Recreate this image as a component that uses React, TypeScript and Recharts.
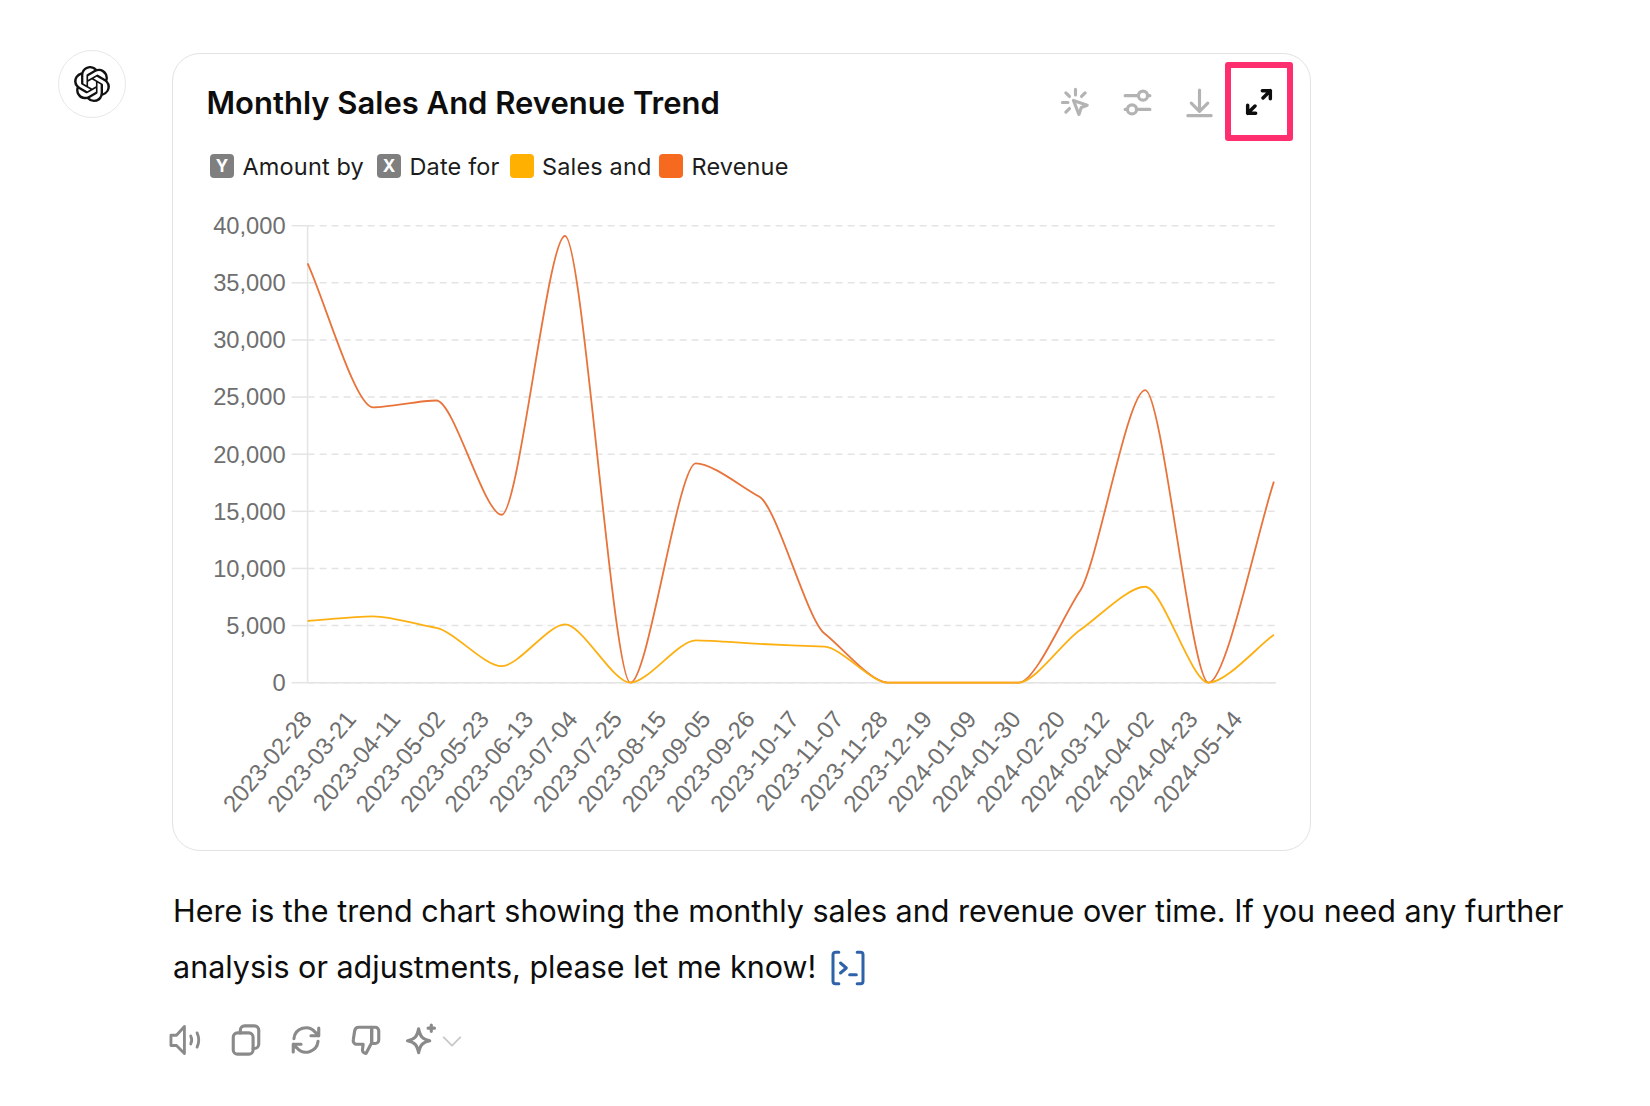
import React from "react";
import { LineChart, Line, XAxis, YAxis, CartesianGrid } from "recharts";

const dates = [
  "2023-02-28", "2023-03-31", "2023-04-30", "2023-05-31", "2023-06-30", "2023-07-31", "2023-08-31", "2023-09-30",
  "2023-10-31", "2023-11-30", "2023-12-31", "2024-01-31", "2024-02-29", "2024-03-31", "2024-04-30", "2024-05-31",
];
const sales = [5400, 5800, 4800, 1450, 5100, 0, 3700, 3400, 3150, 0, 0, 0, 4600, 8400, 0, 4200];
const revenue = [36700, 24100, 24700, 14700, 39100, 0, 19200, 16300, 4300, 0, 0, 0, 8000, 25600, 0, 17600];
const xTickLabels = [
  "2023-02-28", "2023-03-21", "2023-04-11", "2023-05-02", "2023-05-23", "2023-06-13", "2023-07-04", "2023-07-25",
  "2023-08-15", "2023-09-05", "2023-09-26", "2023-10-17", "2023-11-07", "2023-11-28", "2023-12-19", "2024-01-09",
  "2024-01-30", "2024-02-20", "2024-03-12", "2024-04-02", "2024-04-23", "2024-05-14",
];
const xAxisEnd = "2024-06-01";
const yTicks = [0, 5000, 10000, 15000, 20000, 25000, 30000, 35000, 40000];

const data = dates.map((d, i) => ({ t: Date.parse(d), sales: sales[i], revenue: revenue[i] }));
const font = "Inter, sans-serif";
const axisFont = "'Liberation Sans', Arial, sans-serif";
const axisColor = "#e4e4e4";
const tickColor = "#6f6f6f";

const place = (left: number, top: number, extra: any = {}): any => ({ position: "absolute", left, top, ...extra });

// monotone curve with shorter handles, the original's bends are tighter than d3's monotoneX
const softCurve = (context: any) => {
  let pts: number[][] = [];
  const k = 0.27;
  return {
    areaStart() {},
    areaEnd() {},
    lineStart() {
      pts = [];
    },
    point(x: number, y: number) {
      pts.push([+x, +y]);
    },
    lineEnd() {
      const n = pts.length;
      if (!n) return;
      const slopes = pts.slice(1).map((p, i) => (p[1] - pts[i][1]) / (p[0] - pts[i][0]));
      const tangents = pts.map((_, i) => {
        if (i === 0) return slopes[0];
        if (i === n - 1) return slopes[n - 2];
        const a = slopes[i - 1];
        const b = slopes[i];
        if (a * b <= 0) return 0;
        return Math.sign(a) * Math.min(Math.abs(a), Math.abs(b), 0.5 * Math.abs(a + b));
      });
      context.moveTo(pts[0][0], pts[0][1]);
      for (let i = 1; i < n; i++) {
        const d = (pts[i][0] - pts[i - 1][0]) * k;
        context.bezierCurveTo(
          pts[i - 1][0] + d,
          pts[i - 1][1] + d * tangents[i - 1],
          pts[i][0] - d,
          pts[i][1] - d * tangents[i],
          pts[i][0],
          pts[i][1]
        );
      }
    },
  };
};

function DateTick({ x, y, payload }: any) {
  const ax = x + 5.5;
  const ay = y + 37;
  return (
    <text x={ax} y={ay} textAnchor="end" fill={tickColor} fontSize={24} fontFamily={axisFont} transform={`rotate(-50 ${ax} ${ay})`}>
      {new Date(payload.value).toISOString().slice(0, 10)}
    </text>
  );
}

function Label({ x, text }: { x: number; text: string }) {
  return <div style={place(x, 152, { font: `400 23.5px/30px ${font}`, letterSpacing: 0.15, color: "#1c1c1c", whiteSpace: "nowrap" })}>{text}</div>;
}

function Chip({ x, color, text }: { x: number; color: string; text?: string }) {
  return (
    <div style={place(x, 154, { width: 24, height: 24, borderRadius: 4, background: color, color: "#fff", font: `700 17px/24px ${font}`, textAlign: "center" })}>
      {text}
    </div>
  );
}

function Icon({ x, y, size, color, sw = 2, children }: any) {
  return (
    <svg style={place(x - size / 2, y - size / 2)} width={size} height={size} viewBox="0 0 24 24" fill="none" stroke={color} strokeWidth={sw} strokeLinecap="round" strokeLinejoin="round">
      {children}
    </svg>
  );
}

export default function App() {
  return (
    <div style={place(0, 0, { width: 1650, height: 1106, background: "#fff", overflow: "hidden", fontFamily: font })}>
      <div style={place(58, 50, { width: 68, height: 68, borderRadius: "50%", border: "1.5px solid #e8e8e8", boxSizing: "border-box" })} />
      <svg style={place(74, 66)} width={36} height={36} viewBox="0 0 24 24" fill="#111">
        <path d="M22.2819 9.8211a5.9847 5.9847 0 0 0-.5157-4.9108 6.0462 6.0462 0 0 0-6.5098-2.9A6.0651 6.0651 0 0 0 4.9807 4.1818a5.9847 5.9847 0 0 0-3.9977 2.9 6.0462 6.0462 0 0 0 .7427 7.0966 5.98 5.98 0 0 0 .511 4.9107 6.051 6.051 0 0 0 6.5146 2.9001A5.9847 5.9847 0 0 0 13.2599 24a6.0557 6.0557 0 0 0 5.7718-4.2058 5.9894 5.9894 0 0 0 3.9977-2.9001 6.0557 6.0557 0 0 0-.7475-7.0729zm-9.022 12.6081a4.4755 4.4755 0 0 1-2.8764-1.0408l.1419-.0804 4.7783-2.7582a.7948.7948 0 0 0 .3927-.6813v-6.7369l2.02 1.1686a.071.071 0 0 1 .038.052v5.5826a4.504 4.504 0 0 1-4.4945 4.4944zm-9.6607-4.1254a4.4708 4.4708 0 0 1-.5346-3.0137l.142.0852 4.783 2.7582a.7712.7712 0 0 0 .7806 0l5.8428-3.3685v2.3324a.0804.0804 0 0 1-.0332.0615L9.74 19.9502a4.4992 4.4992 0 0 1-6.1408-1.6464zM2.3408 7.8956a4.485 4.485 0 0 1 2.3655-1.9728V11.6a.7664.7664 0 0 0 .3879.6765l5.8144 3.3543-2.0201 1.1685a.0757.0757 0 0 1-.071 0l-4.8303-2.7865A4.504 4.504 0 0 1 2.3408 7.872zm16.5963 3.8558L13.1038 8.364 15.1192 7.2a.0757.0757 0 0 1 .071 0l4.8303 2.7913a4.4944 4.4944 0 0 1-.6765 8.1042v-5.6772a.79.79 0 0 0-.407-.667zm2.0107-3.0231l-.142-.0852-4.7735-2.7818a.7759.7759 0 0 0-.7854 0L9.409 9.2297V6.8974a.0662.0662 0 0 1 .0284-.0615l4.8303-2.7866a4.4992 4.4992 0 0 1 6.6802 4.66zM8.3065 12.863l-2.02-1.1638a.0804.0804 0 0 1-.038-.0567V6.0742a4.4992 4.4992 0 0 1 7.3757-3.4537l-.142.0805L8.704 5.459a.7948.7948 0 0 0-.3927.6813zm1.0976-2.3654l2.602-1.4998 2.6069 1.4998v2.9994l-2.5974 1.4997-2.6067-1.4997Z" />
      </svg>

      <div style={place(172, 52.5, { width: 1138.5, height: 798.5, borderRadius: 28, border: "1.5px solid #e2e2e2", boxSizing: "border-box" })} />
      <div style={place(206.5, 83, { font: `600 31px/40px ${font}`, color: "#0d0d0d", whiteSpace: "nowrap" })}>Monthly Sales And Revenue Trend</div>

      <Chip x={210} color="#7f7f7f" text="Y" />
      <Label x={242.5} text="Amount by" />
      <Chip x={377} color="#7f7f7f" text="X" />
      <Label x={409.5} text="Date for" />
      <Chip x={510} color="#ffb000" />
      <Label x={542} text="Sales and" />
      <Chip x={659} color="#f56a1f" />
      <Label x={691.5} text="Revenue" />

      {/* toolbar */}
      <Icon x={1075} y={102} size={33} color="#b3b3b3" sw={2.3}>
        <path d="M12 2.500v4M5 5l2.600 2.600M19 5l-2.600 2.600M2.500 12h4M5 19l2.600-2.600" />
        <path d="M10.500 10.500l10 3.500-4.300 1.700-1.700 5z" />
      </Icon>
      <Icon x={1137} y={102} size={33} color="#b3b3b3" sw={2.3}>
        <path d="M3 7h9.500M19.500 7h1.500M3 17h1.500M11.500 17H21" />
        <circle cx="16" cy="7" r="3.300" />
        <circle cx="8" cy="17" r="3.300" />
      </Icon>
      <Icon x={1199} y={102} size={33} color="#b3b3b3" sw={2.3}>
        <path d="M12 3v15M6 12.500l6 6 6-6M3.500 21.500h17" />
      </Icon>
      <div style={place(1225, 62, { width: 68, height: 79, border: "6px solid #ff2e6e", borderRadius: 3, boxSizing: "border-box" })} />
      <Icon x={1259} y={102} size={32} color="#0d0d0d" sw={2.6}>
        <path d="M15 9l5.500-5.500M14.500 3.500h6v6M9 15l-5.500 5.500M3.500 14.500v6h6" />
      </Icon>

      <div style={place(173, 190)}>
        <LineChart
          width={1139}
          height={640}
          data={data}
          margin={{ top: 35.7, right: 36, left: 0, bottom: 0 }}
        >
          <CartesianGrid horizontal vertical={false} stroke={axisColor} strokeWidth={1.5} strokeDasharray="7 5" />
          <XAxis
            dataKey="t"
            type="number"
            domain={[Date.parse(dates[0]), Date.parse(xAxisEnd)]}
            ticks={xTickLabels.map((d) => Date.parse(d))}
            interval={0}
            height={147.3}
            tickLine={false}
            tickSize={0}
            tickMargin={0}
            axisLine={{ stroke: axisColor, strokeWidth: 1.5 }}
            tick={<DateTick />}
          />
          <YAxis
            type="number"
            domain={[0, 40000]}
            ticks={yTicks}
            width={134.6}
            tickSize={16}
            tickMargin={6}
            tickFormatter={(v: number) => v.toLocaleString("en-US")}
            tickLine={{ stroke: axisColor, strokeWidth: 1.5 }}
            axisLine={{ stroke: axisColor, strokeWidth: 1.5 }}
            tick={{ fill: tickColor, fontSize: 23.7, fontFamily: axisFont }}
          />
          <Line type={softCurve as any} dataKey="revenue" stroke="#e8743b" strokeWidth={1.8} dot={false} isAnimationActive={false} zIndex={600} />
          <Line type={softCurve as any} dataKey="sales" stroke="#fdb012" strokeWidth={1.8} dot={false} isAnimationActive={false} zIndex={601} />
        </LineChart>
      </div>

      <div style={place(173, 883, { font: `400 30.5px/56px ${font}`, color: "#0d0d0d", whiteSpace: "nowrap" })}>
        Here is the trend chart showing the monthly sales and revenue over time. If you need any further
      </div>
      <div style={place(173, 939, { font: `400 30.5px/56px ${font}`, color: "#0d0d0d", whiteSpace: "nowrap" })}>
        analysis or adjustments, please let me know!
      </div>
      <Icon x={848} y={968} size={40} color="#2f62a8" sw={1.8}>
        <path d="M6.500 2.500H4.500a1.500 1.500 0 0 0-1.500 1.500v16a1.500 1.500 0 0 0 1.500 1.500h2M17.500 2.500h2a1.500 1.500 0 0 1 1.500 1.500v16a1.500 1.500 0 0 1-1.500 1.500h-2" />
        <path d="M7.500 9l3.500 3-3.500 3M13 16h4" />
      </Icon>

      {/* message actions */}
      <Icon x={186} y={1040} size={38} color="#8a8a8a" sw={1.8}>
        <path d="M2.500 9v6.500H6l5 5V3.500L6 9z" />
        <path d="M15 9.500c.8 1.600.8 3.400 0 5M19 7.500c1.400 3 1.400 6 0 9" />
      </Icon>
      <Icon x={246} y={1040} size={34} color="#8a8a8a" sw={2.2}>
        <rect x="3" y="7" width="14" height="15" rx="3" />
        <path d="M8 7V5a3 3 0 0 1 3-3h7a3 3 0 0 1 3 3v10a3 3 0 0 1-3 3h-1" />
      </Icon>
      <Icon x={306} y={1040} size={34} color="#8a8a8a" sw={2.2}>
        <path d="M3.500 11a8.500 8.500 0 0 1 15-4.500L21 9M21 3.500V9h-5.500M20.500 13a8.500 8.500 0 0 1-15 4.500L3 15M3 20.500V15h5.500" />
      </Icon>
      <Icon x={366} y={1040} size={34} color="#8a8a8a" sw={2.2}>
        <path d="M16 3H7a3 3 0 0 0-3 2.500L3 12a2.500 2.500 0 0 0 2.500 3H10l-.5 4a2.500 2.500 0 0 0 2.500 2.500L16 14z" />
        <path d="M16 3h2.500A2.500 2.500 0 0 1 21 5.500V12a2.500 2.500 0 0 1-2.500 2.500H16z" />
      </Icon>
      <Icon x={421} y={1040} size={38} color="#8a8a8a" sw={2}>
        <path d="M10.500 5c1 5 2.500 6.500 7 7.500-4.500 1-6 2.500-7 7.500-1-5-2.500-6.500-7-7.500 4.500-1 6-2.500 7-7.500z" />
        <path d="M18.500 2.500v4M16.500 4.500h4" />
      </Icon>
      <Icon x={452} y={1041} size={22} color="#c8c8c8" sw={2}>
        <path d="M3 8l9 9 9-9" />
      </Icon>
    </div>
  );
}
